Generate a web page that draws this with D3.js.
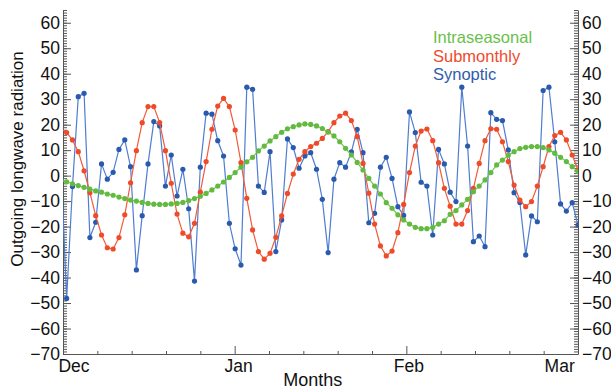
<!DOCTYPE html>
<html>
<head>
<meta charset="utf-8">
<script src="https://cdn.jsdelivr.net/npm/d3@7"></script>
<style>
  body { margin: 0; background: #fff; }
  svg { display: block; font-family: "Liberation Sans", Arial, sans-serif; }
</style>
</head>
<body>
<svg id="chart" width="611" height="390"></svg>
<script>
// daily samples, index -1 is the day before the axis starts (clipped)
const intraseasonal = [-1.8,
  -2.4, -3.2, -3.9, -4.6, -5.3, -6.0, -6.5, -7.2, -7.7, -8.4, -9.0, -9.6, -10.0, -10.5, -10.9, -11.2, -11.3, -11.3, -11.1, -10.9,
  -10.5, -9.8, -9.0, -8.1, -7.0, -5.6, -4.1, -2.5, -0.7, 1.2, 3.3, 5.4, 7.2, 9.7, 11.6, 13.6, 15.3, 17.0, 18.4, 19.2,
  19.9, 20.3, 20.1, 19.5, 18.5, 17.1, 15.6, 13.3, 10.7, 8.1, 5.2, 2.2, -1.1, -4.1, -7.2, -10.6, -12.8, -15.4, -17.4, -19.0,
  -20.3, -20.8, -20.8, -20.3, -19.0, -17.7, -15.2, -13.7, -11.5, -9.3, -6.3, -4.1, -1.7, 1.2, 4.2, 6.1, 8.0, 9.4, 10.6, 11.1,
  11.4, 11.4, 11.0, 10.1, 8.8, 7.2, 5.5, 3.5, 1.6];

const submonthly = [18.4,
  16.9, 14.0, 9.4, 1.9, -6.7, -15.7, -23.3, -28.3, -28.8, -24.3, -15.4, -2.8, 9.8, 20.8, 27.1, 27.1, 20.8, 9.8, -3.0, -15.1,
  -22.6, -24.0, -18.7, -6.5, 5.5, 18.2, 27.3, 30.3, 27.1, 17.9, 5.1, -8.9, -21.3, -29.8, -32.8, -30.5, -24.2, -15.8, -7.0, 0.6,
  6.4, 9.4, 11.4, 12.7, 14.6, 17.3, 20.8, 23.4, 24.5, 21.6, 15.3, 4.8, -6.9, -19.0, -27.6, -31.5, -29.6, -22.4, -11.3, 1.2,
  11.6, 17.5, 18.3, 13.7, 5.1, -5.0, -12.0, -19.0, -19.0, -13.7, -5.0, 4.8, 13.7, 18.4, 18.2, 13.3, 5.5, -3.7, -9.6, -12.2,
  -10.2, -4.1, 3.5, 11.4, 15.7, 17.0, 14.0, 8.1, 2.2];

const synoptic = [4.5,
  -48.2, -4.3, 31.0, 32.3, -24.3, -18.3, 4.6, -1.4, 1.3, 10.3, 14.0, 3.5, -37.0, -15.7, 4.6, 21.2, 19.5, -4.1, 8.1, -8.0,
  2.5, -13.0, -41.4, 3.3, 24.5, 24.1, 13.7, 7.7, -18.7, -28.7, -35.1, 34.7, 33.9, -4.1, -6.6, 9.4, -29.8, -17.4, 14.4, 11.0,
  2.9, 7.7, 9.0, 2.5, -9.3, -30.2, -1.4, 5.1, 3.3, 9.3, 18.2, 9.0, -18.5, -14.8, 3.3, 7.2, -1.1, -12.2, -15.6, 25.0,
  16.9, -2.6, -4.1, -23.3, 10.3, 4.6, -6.5, -10.2, 34.7, 11.6, -25.9, -23.7, -27.9, 24.7, 22.1, 21.6, 10.1, -6.7, -10.5, -31.1,
  -15.8, -18.1, 33.4, 34.7, 13.3, -11.1, -13.9, -10.6, -19.4];

const seriesNames = ["Intraseasonal", "Submonthly", "Synoptic"];
const monthLabels = ["Dec", "Jan", "Feb", "Mar"];
const yTicks = d3.range(-70, 61, 10);

const lineColors = ["#74c452", "#f25a3a", "#4f7dcf"];
const dotColors = ["#62bb40", "#ee4b2b", "#2a5aad"];
const textColors = ["#6abf4b", "#f04a2e", "#2f5cab"];

const svg = d3.select("#chart");
const plotL = 63, plotR = 578, plotT = 10, plotB = 354;

const x = d3.scaleLinear().domain([-0.63, 88]).range([plotL, plotR]);
const y = d3.scaleLinear().domain([-70, 65]).range([plotB, plotT]);

svg.append("rect").attr("width", 611).attr("height", 390).attr("fill", "#fff");

svg.append("clipPath").attr("id", "plot-clip")
  .append("rect")
  .attr("x", plotL).attr("y", 0)
  .attr("width", plotR - plotL).attr("height", 390);

const minus = d => (d < 0 ? "\u2212" + Math.abs(d) : "" + d);
const axisColor = "#555";

// minor y ticks every unit, both sides
const minorY = d3.range(-70, 66, 1);
svg.append("g").attr("transform", `translate(${plotL},0)`)
  .call(d3.axisLeft(y).tickValues(minorY).tickSize(-4).tickSizeOuter(0).tickFormat(""))
  .call(g => g.select(".domain").remove());
svg.append("g").attr("transform", `translate(${plotR},0)`)
  .call(d3.axisRight(y).tickValues(minorY).tickSize(-4).tickSizeOuter(0).tickFormat(""))
  .call(g => g.select(".domain").remove());

svg.append("g").attr("transform", `translate(${plotL},0)`)
  .call(d3.axisLeft(y).tickValues(yTicks).tickSize(-8).tickSizeOuter(0).tickPadding(3).tickFormat(minus));
svg.append("g").attr("transform", `translate(${plotR},0)`)
  .call(d3.axisRight(y).tickValues(yTicks).tickSize(-8).tickSizeOuter(0).tickPadding(4).tickFormat(minus));

// x axis: 15 equal intervals, Jan and Feb get long ticks
const xStep = (x.domain()[1] - x.domain()[0]) / 15;
const xTickVals = d3.range(16).map(k => x.domain()[0] + k * xStep);
const xAxis = svg.append("g").attr("transform", `translate(0,${plotB})`)
  .call(d3.axisBottom(x).tickValues(xTickVals).tickSize(-3).tickSizeOuter(0).tickFormat(""));
xAxis.selectAll(".tick line")
  .attr("y2", (d, i) => (i === 5 || i === 10 ? -8 : -3));

svg.selectAll(".domain, .tick line").attr("stroke", axisColor).attr("stroke-width", 1);
svg.selectAll(".tick text").attr("fill", "#111").style("font-size", "17.5px");

// month labels sit next to their ticks
const monthTickIdx = [0, 5, 10, 14];
const monthDx = [11, 4, 2.5, 16];
svg.append("g").selectAll("text")
  .data(monthLabels)
  .join("text")
  .attr("x", (d, i) => x(xTickVals[monthTickIdx[i]]) + monthDx[i])
  .attr("y", 372)
  .attr("text-anchor", "middle")
  .attr("fill", "#111")
  .style("font-size", "17.5px")
  .text(d => d);

svg.append("text")
  .attr("x", 312.7).attr("y", 386)
  .attr("text-anchor", "middle")
  .attr("fill", "#111")
  .style("font-size", "18px")
  .text("Months");

svg.append("text")
  .attr("transform", "translate(23,159) rotate(-90)")
  .attr("text-anchor", "middle")
  .attr("fill", "#111")
  .style("font-size", "17px")
  .text("Outgoing longwave radiation");

// series
const allSeries = [intraseasonal, submonthly, synoptic];
const plot = svg.append("g").attr("clip-path", "url(#plot-clip)");
const line = d3.line().x((d, i) => x(i - 1)).y(d => y(d));

[2, 1, 0].forEach(s => {
  const g = plot.append("g");
  g.append("path")
    .datum(allSeries[s])
    .attr("d", line)
    .attr("fill", "none")
    .attr("stroke", lineColors[s])
    .attr("stroke-width", 1.2);
  g.selectAll("circle")
    .data(allSeries[s])
    .join("circle")
    .attr("cx", (d, i) => x(i - 1))
    .attr("cy", d => y(d))
    .attr("r", 2.6)
    .attr("fill", dotColors[s]);
});

// legend
svg.append("g").selectAll("text")
  .data(seriesNames)
  .join("text")
  .attr("x", 433)
  .attr("y", (d, i) => 43.3 + i * 18.4)
  .attr("fill", (d, i) => textColors[i])
  .style("font-size", "16.5px")
  .text(d => d);
</script>
</body>
</html>
